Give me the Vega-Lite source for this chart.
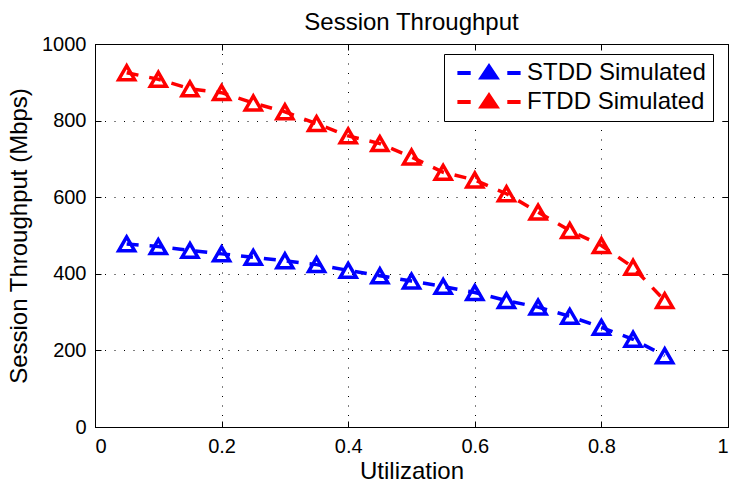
{
  "$schema": "https://vega.github.io/schema/vega-lite/v6.json",
  "autosize": "none",
  "width": 633,
  "height": 383,
  "padding": {"left": 95, "top": 44, "right": 3, "bottom": 60},
  "background": "white",
  "title": {
    "text": "Session Throughput",
    "font": "Liberation Sans",
    "fontSize": 24,
    "fontWeight": "normal",
    "color": "black",
    "anchor": "middle",
    "baseline": "alphabetic",
    "offset": 2,
    "dy": 22
  },
  "config": {
    "view": {"stroke": "black", "strokeWidth": 1},
    "axis": {
      "labelFont": "Liberation Sans",
      "titleFont": "Liberation Sans",
      "labelColor": "black",
      "titleColor": "black",
      "labelFontSize": 20,
      "titleFontSize": 24,
      "titleFontWeight": "normal",
      "domainColor": "black",
      "domainWidth": 1,
      "tickColor": "black",
      "tickWidth": 1,
      "tickSize": -6,
      "gridColor": "black",
      "gridOpacity": 1,
      "gridWidth": 1,
      "gridDash": [1, 8.5]
    }
  },
  "data": {
    "values": [
      {"u": 0.05, "v": 478, "series": "STDD Simulated"},
      {"u": 0.10, "v": 471, "series": "STDD Simulated"},
      {"u": 0.15, "v": 461, "series": "STDD Simulated"},
      {"u": 0.20, "v": 452, "series": "STDD Simulated"},
      {"u": 0.25, "v": 443, "series": "STDD Simulated"},
      {"u": 0.30, "v": 434, "series": "STDD Simulated"},
      {"u": 0.35, "v": 424, "series": "STDD Simulated"},
      {"u": 0.40, "v": 409, "series": "STDD Simulated"},
      {"u": 0.45, "v": 395, "series": "STDD Simulated"},
      {"u": 0.50, "v": 381, "series": "STDD Simulated"},
      {"u": 0.55, "v": 367, "series": "STDD Simulated"},
      {"u": 0.60, "v": 351, "series": "STDD Simulated"},
      {"u": 0.65, "v": 330, "series": "STDD Simulated"},
      {"u": 0.70, "v": 313, "series": "STDD Simulated"},
      {"u": 0.75, "v": 289, "series": "STDD Simulated"},
      {"u": 0.80, "v": 260, "series": "STDD Simulated"},
      {"u": 0.85, "v": 229, "series": "STDD Simulated"},
      {"u": 0.90, "v": 186, "series": "STDD Simulated"},
      {"u": 0.05, "v": 925, "series": "FTDD Simulated"},
      {"u": 0.10, "v": 908, "series": "FTDD Simulated"},
      {"u": 0.15, "v": 883, "series": "FTDD Simulated"},
      {"u": 0.20, "v": 873, "series": "FTDD Simulated"},
      {"u": 0.25, "v": 846, "series": "FTDD Simulated"},
      {"u": 0.30, "v": 823, "series": "FTDD Simulated"},
      {"u": 0.35, "v": 792, "series": "FTDD Simulated"},
      {"u": 0.40, "v": 760, "series": "FTDD Simulated"},
      {"u": 0.45, "v": 740, "series": "FTDD Simulated"},
      {"u": 0.50, "v": 705, "series": "FTDD Simulated"},
      {"u": 0.55, "v": 665, "series": "FTDD Simulated"},
      {"u": 0.60, "v": 645, "series": "FTDD Simulated"},
      {"u": 0.65, "v": 609, "series": "FTDD Simulated"},
      {"u": 0.70, "v": 561, "series": "FTDD Simulated"},
      {"u": 0.75, "v": 513, "series": "FTDD Simulated"},
      {"u": 0.80, "v": 474, "series": "FTDD Simulated"},
      {"u": 0.85, "v": 417, "series": "FTDD Simulated"},
      {"u": 0.90, "v": 330, "series": "FTDD Simulated"}
    ]
  },
  "resolve": {
    "axis": {"x": "independent", "y": "independent"},
    "legend": {"color": "independent"}
  },
  "layer": [
    {
      "mark": {"type": "line", "strokeWidth": 3.5, "strokeDash": [12, 11], "clip": true},
      "encoding": {
        "x": {
          "field": "u", "type": "quantitative",
          "scale": {"domain": [0, 1], "nice": false, "zero": false},
          "axis": {
            "orient": "bottom",
            "title": "Utilization",
            "values": [0, 0.2, 0.4, 0.6, 0.8, 1],
            "format": "~g",
            "grid": true,
            "labelPadding": 31,
            "labelBaseline": "alphabetic",
            "titlePadding": 22,
            "titleBaseline": "alphabetic"
          }
        },
        "y": {
          "field": "v", "type": "quantitative",
          "scale": {"domain": [0, 1000], "nice": false},
          "axis": {
            "orient": "left",
            "title": "Session Throughput (Mbps)",
            "values": [0, 200, 400, 600, 800, 1000],
            "format": "d",
            "grid": true,
            "labelPadding": 15,
            "titlePadding": 10
          }
        },
        "color": {
          "field": "series", "type": "nominal",
          "scale": {"domain": ["STDD Simulated", "FTDD Simulated"], "range": ["#0000ff", "#ff0000"]},
          "legend": null
        },
        "detail": {"field": "series", "type": "nominal"}
      }
    },
    {
      "mark": {"type": "point", "shape": "triangle-up", "size": 256, "filled": false, "strokeWidth": 3.5, "opacity": 1},
      "encoding": {
        "x": {
          "field": "u", "type": "quantitative",
          "axis": {"orient": "top", "title": null, "values": [0, 0.2, 0.4, 0.6, 0.8, 1], "labels": false, "grid": false}
        },
        "y": {
          "field": "v", "type": "quantitative",
          "axis": {"orient": "right", "title": null, "values": [0, 200, 400, 600, 800, 1000], "labels": false, "grid": false}
        },
        "color": {"field": "series", "type": "nominal", "legend": null}
      }
    },
    {
      "transform": [{"filter": "datum.u < 0"}],
      "mark": {"type": "point", "filled": true, "opacity": 1, "size": 1},
      "encoding": {
        "color": {
          "field": "series", "type": "nominal",
          "legend": {
            "title": null,
            "orient": "none",
            "legendX": 349,
            "legendY": 10,
            "padding": 7,
            "fillColor": "white",
            "strokeColor": "black",
            "cornerRadius": 0,
            "symbolType": "M-3.16,-0.2L-1.83,-0.2L-1.83,0.2L-3.16,0.2ZM0,-1.0L1.1,0.66L-1.1,0.66ZM1.83,-0.2L3.16,-0.2L3.16,0.2L1.83,0.2Z",
            "symbolSize": 400,
            "symbolStrokeWidth": 0,
            "symbolOpacity": 1,
            "symbolOffset": 26,
            "labelOffset": 26,
            "labelFont": "Liberation Sans",
            "labelFontSize": 24,
            "labelColor": "black",
            "labelLimit": 400,
            "rowPadding": 5
          }
        }
      }
    }
  ]
}
